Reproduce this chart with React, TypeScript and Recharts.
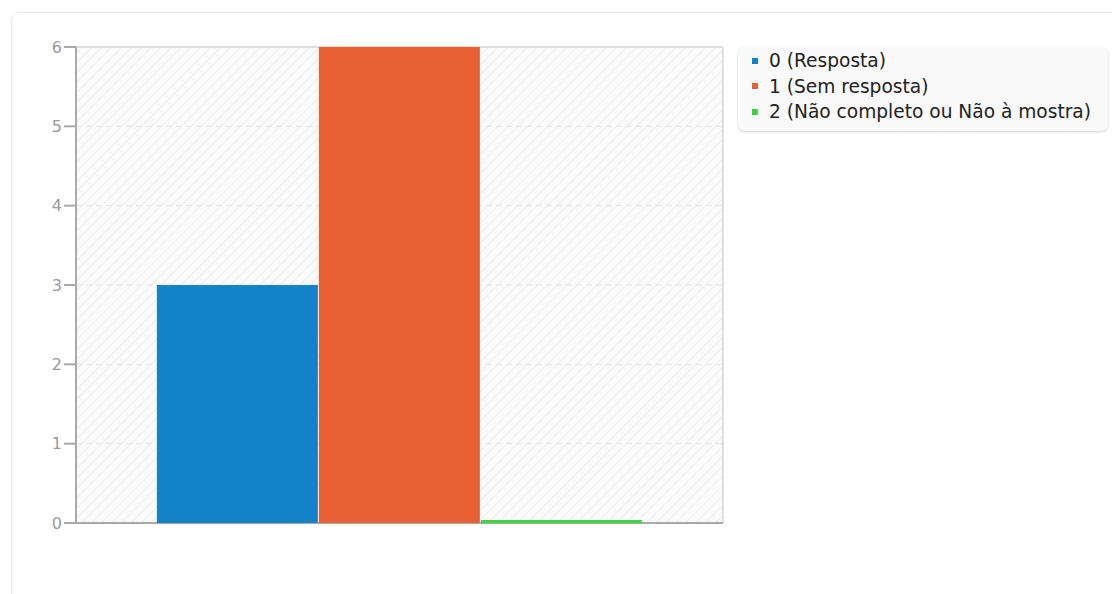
import React from "react";
import {
  BarChart, Bar, XAxis, YAxis, CartesianGrid,
} from "recharts";

const CATEGORIES = [""];
const SERIES_KEYS = ["s0", "s1", "s2"];
const SERIES_LABELS = ["0 (Resposta)", "1 (Sem resposta)", "2 (Não completo ou Não à mostra)"];
const SERIES_VALUES = [[3], [6], [0]];
const SERIES_COLORS = ["#1482c8", "#e86034", "#3ad83a"];
const Y_TICKS = [0, 1, 2, 3, 4, 5, 6];

const data = CATEGORIES.map((c, i) => {
  const row: Record<string, string | number> = { name: c };
  SERIES_KEYS.forEach((k, j) => { row[k] = SERIES_VALUES[j][i]; });
  return row;
});

const FONT = "'DejaVu Sans', sans-serif";

function LegendBox() {
  return (
    <div
      style={{
        position: "absolute",
        left: 738,
        top: 47,
        width: 370,
        boxSizing: "border-box",
        background: "#f9f9f9",
        borderRadius: 7,
        boxShadow: "0 1px 3px rgba(0,0,0,0.18)",
        padding: "1px 0 6px 14px",
        fontFamily: FONT,
        fontSize: 18.6,
        color: "#222",
        whiteSpace: "nowrap",
      }}
    >
      {SERIES_LABELS.map((l, i) => (
        <div key={l} style={{ display: "flex", alignItems: "center", height: 25.5 }}>
          <span
            style={{
              width: 6, height: 6, background: SERIES_COLORS[i],
              display: "inline-block", marginRight: 11,
            }}
          />
          {l}
        </div>
      ))}
    </div>
  );
}

export default function App() {
  return (
    <div style={{ position: "fixed", inset: 0, overflow: "hidden", background: "#fff" }}>
      <div
        style={{
          position: "absolute", left: 11, top: 12, width: 1130, height: 620,
          border: "1px solid #e6e6e6", borderRadius: 8,
        }}
      />
      <div style={{ position: "absolute", left: 0, top: 0 }}>
        <BarChart
          width={1112}
          height={594}
          data={data}
          margin={{ top: 47, right: 389, bottom: 70, left: 0 }}
          barCategoryGap="12.5%"
          barGap={1}
        >
          <defs>
            <pattern id="hatch" width="7" height="7" patternUnits="userSpaceOnUse" patternTransform="rotate(45)">
              <rect width="7" height="7" fill="#fafafa" />
              <line x1="0" y1="0" x2="0" y2="7" stroke="#ededed" strokeWidth="2" />
            </pattern>
          </defs>
          <CartesianGrid
            vertical={false}
            stroke="#e4e4e4"
            strokeDasharray="6 4"
            fill="url(#hatch)"
          />
          {/* frame: top + right border of the plot area */}
          <CartesianGrid
            stroke="#dedede"
            strokeWidth={2}
            fill="none"
            horizontalCoordinatesGenerator={({ offset }: any) => [offset.top]}
            verticalCoordinatesGenerator={({ offset }: any) => [offset.left + offset.width]}
          />
          {/* bottom axis line, kept under the bars */}
          <CartesianGrid
            vertical={false}
            stroke="#aaaaaa"
            strokeWidth={2}
            fill="none"
            horizontalCoordinatesGenerator={({ offset }: any) => [offset.top + offset.height]}
          />
          <XAxis
            dataKey="name"
            height={1}
            tick={false}
            tickLine={false}
            axisLine={false}
          />
          <YAxis
            domain={[0, 6]}
            ticks={Y_TICKS}
            width={76}
            tickSize={12}
            tickMargin={2}
            interval={0}
            axisLine={{ stroke: "#aaaaaa", strokeWidth: 2 }}
            tickLine={{ stroke: "#aaaaaa", strokeWidth: 2 }}
            tick={{ fill: "#9a9a9a", fontSize: 16, fontFamily: FONT }}
          />
          {SERIES_KEYS.map((k, i) => (
            <Bar
              key={k}
              dataKey={k}
              name={SERIES_LABELS[i]}
              fill={SERIES_COLORS[i]}
              minPointSize={i === 2 ? 3 : 0}
              isAnimationActive={false}
            />
          ))}
        </BarChart>
      </div>
      <LegendBox />
    </div>
  );
}
